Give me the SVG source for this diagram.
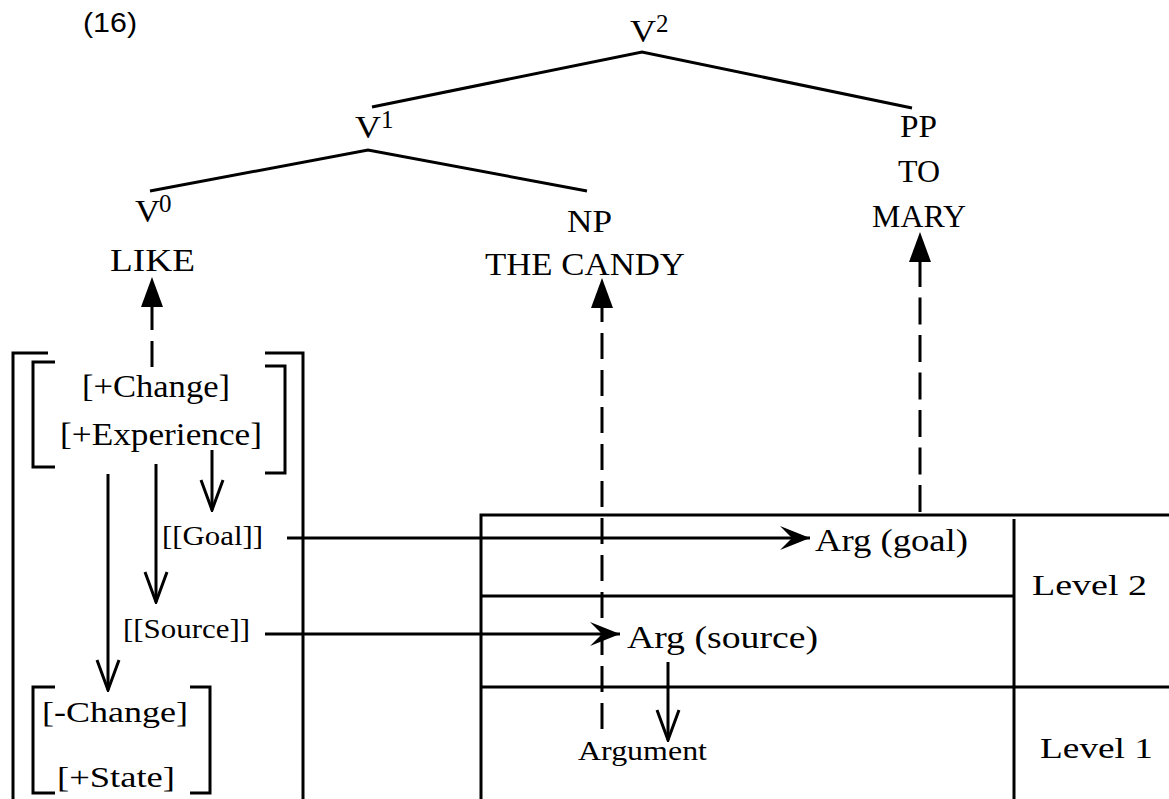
<svg xmlns="http://www.w3.org/2000/svg" width="1169" height="799" viewBox="0 0 1169 799">
<style>
.t{font-family:"Liberation Serif","Times New Roman",serif;fill:#000}
.s{font-family:"Liberation Sans",Arial,sans-serif;fill:#000}
.ln{fill:none;stroke:#000;stroke-width:3;stroke-linecap:butt;stroke-linejoin:miter}
.dash{stroke-dasharray:26 11}
</style>
<defs>
<marker id="tri" markerUnits="userSpaceOnUse" viewBox="0 0 30 22" refX="0" refY="11" markerWidth="30" markerHeight="22" orient="auto-start-reverse">
<path d="M0,0 L30,11 L0,22 Z" fill="#000"/>
</marker>
<marker id="vee" markerUnits="userSpaceOnUse" viewBox="-2 -2 34 26" refX="30" refY="11" markerWidth="34" markerHeight="26" orient="auto">
<path d="M0,0 L30,11 L0,22" fill="none" stroke="#000" stroke-width="3" stroke-linejoin="miter"/>
</marker>
<marker id="barb" markerUnits="userSpaceOnUse" viewBox="0 0 30 24" refX="30" refY="12" markerWidth="30" markerHeight="24" orient="auto">
<path d="M0,0 L30,12 L0,24 L12,12 Z" fill="#000"/>
</marker>
</defs>
<rect width="1169" height="799" fill="#fff"/>

<text id="label16" class="s" x="83" y="32" font-size="28" textLength="54" lengthAdjust="spacingAndGlyphs">(16)</text>

<g id="connectors">
<path class="ln" d="M372,107 L642,52 L912,108"/>
<path class="ln" d="M150,191 L368,150 L587,191"/>
<path class="ln dash" d="M152,307 L152,367" stroke-dashoffset="3" marker-start="url(#tri)"/>
<path class="ln dash" d="M602,308 L602,732" stroke-dashoffset="12" marker-start="url(#tri)"/>
<path class="ln" d="M920,262 L920,512" stroke-dasharray="27 10.5" stroke-dashoffset="2" marker-start="url(#tri)"/>
<path class="ln" d="M212,450 L212,510" marker-end="url(#vee)"/>
<path class="ln" d="M156,464 L156,602" marker-end="url(#vee)"/>
<path class="ln" d="M108,474 L108,690" marker-end="url(#vee)"/>
<path class="ln" d="M668,662 L668,740" marker-end="url(#vee)"/>
<path class="ln" d="M287,538 L810,538" marker-end="url(#barb)"/>
<path class="ln" d="M265,634 L620,634" marker-end="url(#barb)"/>
</g>

<g id="brackets">
<path class="ln" d="M48,353 L13,353 L13,799"/>
<path class="ln" d="M265,353 L303,353 L303,799"/>
<path class="ln" d="M55,362 L33,362 L33,467 L55,467"/>
<path class="ln" d="M265,366 L285,366 L285,473 L265,473"/>
<path class="ln" d="M55,687 L33,687 L33,793 L55,793"/>
<path class="ln" d="M190,687 L210,687 L210,793 L190,793"/>
</g>

<g id="table">
<path class="ln" d="M481,799 L481,515 L1169,515"/>
<path class="ln" d="M481,596 L1013,596"/>
<path class="ln" d="M481,687 L1169,687"/>
<path class="ln" d="M1014,519 L1014,799"/>
</g>

<g id="v2"><text class="t" x="630" y="42" font-size="31" textLength="26" lengthAdjust="spacingAndGlyphs">V</text><text class="t" x="656" y="32" font-size="25">2</text></g>
<g id="v1"><text class="t" x="355" y="138" font-size="31" textLength="26" lengthAdjust="spacingAndGlyphs">V</text><text class="t" x="381" y="128" font-size="25">1</text></g>
<g id="v0"><text class="t" x="135" y="222" font-size="31" textLength="25" lengthAdjust="spacingAndGlyphs">V</text><text class="t" x="159" y="212" font-size="25">0</text></g>
<g id="like"><text class="t" x="110" y="271" font-size="31" textLength="85" lengthAdjust="spacingAndGlyphs">LIKE</text></g>
<g id="np">
<text class="t" x="567" y="232" font-size="31" textLength="45" lengthAdjust="spacingAndGlyphs">NP</text>
<text class="t" x="485" y="275" font-size="31" textLength="200" lengthAdjust="spacingAndGlyphs">THE CANDY</text>
</g>
<g id="pp">
<text class="t" x="900" y="137" font-size="31" textLength="37" lengthAdjust="spacingAndGlyphs">PP</text>
<text class="t" x="898" y="182" font-size="31" textLength="42" lengthAdjust="spacingAndGlyphs">TO</text>
<text class="t" x="872" y="227" font-size="31" textLength="94" lengthAdjust="spacingAndGlyphs">MARY</text>
</g>
<g id="features-top">
<text class="t" x="82" y="397" font-size="31" textLength="148" lengthAdjust="spacingAndGlyphs">[+Change]</text>
<text class="t" x="60" y="445" font-size="31" textLength="202" lengthAdjust="spacingAndGlyphs">[+Experience]</text>
</g>
<g id="goal"><text class="t" x="162" y="545" font-size="27" textLength="101" lengthAdjust="spacingAndGlyphs">[[Goal]]</text></g>
<g id="source"><text class="t" x="123" y="638" font-size="27" textLength="127" lengthAdjust="spacingAndGlyphs">[[Source]]</text></g>
<g id="features-bottom">
<text class="t" x="42" y="722" font-size="30" textLength="146" lengthAdjust="spacingAndGlyphs">[-Change]</text>
<text class="t" x="57" y="787" font-size="30" textLength="118" lengthAdjust="spacingAndGlyphs">[+State]</text>
</g>
<g id="arg-goal"><text class="t" x="815" y="551" font-size="31" textLength="153" lengthAdjust="spacingAndGlyphs">Arg (goal)</text></g>
<g id="arg-source"><text class="t" x="627" y="648" font-size="31" textLength="191" lengthAdjust="spacingAndGlyphs">Arg (source)</text></g>
<g id="argument"><text class="t" x="578" y="760" font-size="27" textLength="129" lengthAdjust="spacingAndGlyphs">Argument</text></g>
<g id="level2"><text class="t" x="1032" y="595" font-size="30" textLength="115" lengthAdjust="spacingAndGlyphs">Level 2</text></g>
<g id="level1"><text class="t" x="1040" y="758" font-size="30" textLength="113" lengthAdjust="spacingAndGlyphs">Level 1</text></g>
</svg>
